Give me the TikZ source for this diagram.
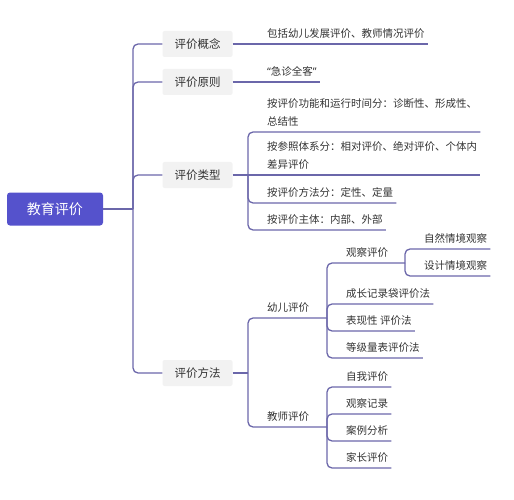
\documentclass[tikz,border=0pt]{standalone}
\usepackage{fontspec}
\newfontfamily\cjk{Noto Sans CJK SC}
\newfontfamily\latn{Noto Sans}
\definecolor{rootc}{HTML}{5552CC}
\definecolor{linkc}{HTML}{6B67AA}
\definecolor{boxc}{HTML}{F2F2F2}
\definecolor{textc}{HTML}{333333}
\tikzset{
  link/.style={draw=linkc, line width=1.3pt, rounded corners=5pt},
  rootbox/.style={fill=rootc, text=white, rounded corners=3pt, minimum width=96pt, minimum height=33pt, font=\cjk\fontsize{14}{16}\selectfont},
  topic/.style={fill=boxc, text=textc, rounded corners=2pt, minimum width=70pt, minimum height=26pt, font=\cjk\fontsize{11.5}{13}\selectfont},
  leaf/.style={anchor=south west, text=textc, inner xsep=3pt, inner ysep=5pt, align=left, font=\cjk\fontsize{10.5}{18.5}\selectfont}
}
\begin{document}
\begin{tikzpicture}[x=1pt,y=-1pt]
    \useasboundingbox (0,0) rectangle (514,500);
    %radice
    \node[rootbox](root) at (55,209) {教育评价};
    \coordinate (j0) at (133,209);
    %primo livello
    \node[topic](gainian) at (197.5,44) {评价概念};
    \node[topic](yuanze) at (197.5,82) {评价原则};
    \node[topic](leixing) at (197.5,175) {评价类型};
    \node[topic](fangfa) at (197.5,373) {评价方法};
    \draw[link](root.east)--(j0);
    \foreach \n in {gainian,yuanze,leixing,fangfa}
        \draw[link](j0)|-(\n.west);
    %concetto e principio
    \node[leaf](baokuo) at (264,44) {包括幼儿发展评价、教师情况评价};
    \node[leaf](jizhen) at (264,82) {{\latn“}急诊全客{\latn”}};
    \draw[link](gainian.east)--(baokuo.south west)--(baokuo.south east);
    \draw[link](yuanze.east)--(jizhen.south west)--(jizhen.south east);
    %tipi
    \coordinate (jT) at (248,175);
    \node[leaf](lx1) at (264,132) {按评价功能和运行时间分：诊断性、形成性、\\总结性};
    \node[leaf](lx2) at (264,175) {按参照体系分：相对评价、绝对评价、个体内\\差异评价};
    \node[leaf](lx3) at (264,203) {按评价方法分：定性、定量};
    \node[leaf](lx4) at (264,230) {按评价主体：内部、外部};
    \draw[link](leixing.east)--(jT)--(lx2.south west)--(lx2.south east);
    \foreach \n in {lx1,lx3,lx4}
        \draw[link](jT)|-(\n.south west)--(\n.south east);
    %metodi
    \coordinate (jM) at (248,373);
    \coordinate (jY) at (327,318);
    \coordinate (jJ) at (327,427);
    \node[leaf](youer) at (264,318) {幼儿评价};
    \node[leaf](jiaoshi) at (264,427) {教师评价};
    \draw[link](fangfa.east)--(jM);
    \draw[link](jM)|-(youer.south west)--(jY);
    \draw[link](jM)|-(jiaoshi.south west)--(jJ);
    %valutazione dei bambini
    \coordinate (jG) at (405,263);
    \node[leaf](guancha) at (343,263) {观察评价};
    \node[leaf](chengzhang) at (343,304) {成长记录袋评价法};
    \node[leaf](biaoxian) at (343,331) {表现性 评价法};
    \node[leaf](dengji) at (343,358) {等级量表评价法};
    \draw[link](jY)|-(guancha.south west)--(jG);
    \foreach \n in {chengzhang,biaoxian,dengji}
        \draw[link](jY)|-(\n.south west)--(\n.south east);
    \node[leaf](ziran) at (421,249) {自然情境观察};
    \node[leaf](sheji) at (421,276) {设计情境观察};
    \foreach \n in {ziran,sheji}
        \draw[link](jG)|-(\n.south west)--(\n.south east);
    %valutazione degli insegnanti
    \node[leaf](ziwo) at (343,387) {自我评价};
    \node[leaf](jilu) at (343,414) {观察记录};
    \node[leaf](anli) at (343,441) {案例分析};
    \node[leaf](jiazhang) at (343,468) {家长评价};
    \foreach \n in {ziwo,jilu,anli,jiazhang}
        \draw[link](jJ)|-(\n.south west)--(\n.south east);
\end{tikzpicture}
\end{document}
